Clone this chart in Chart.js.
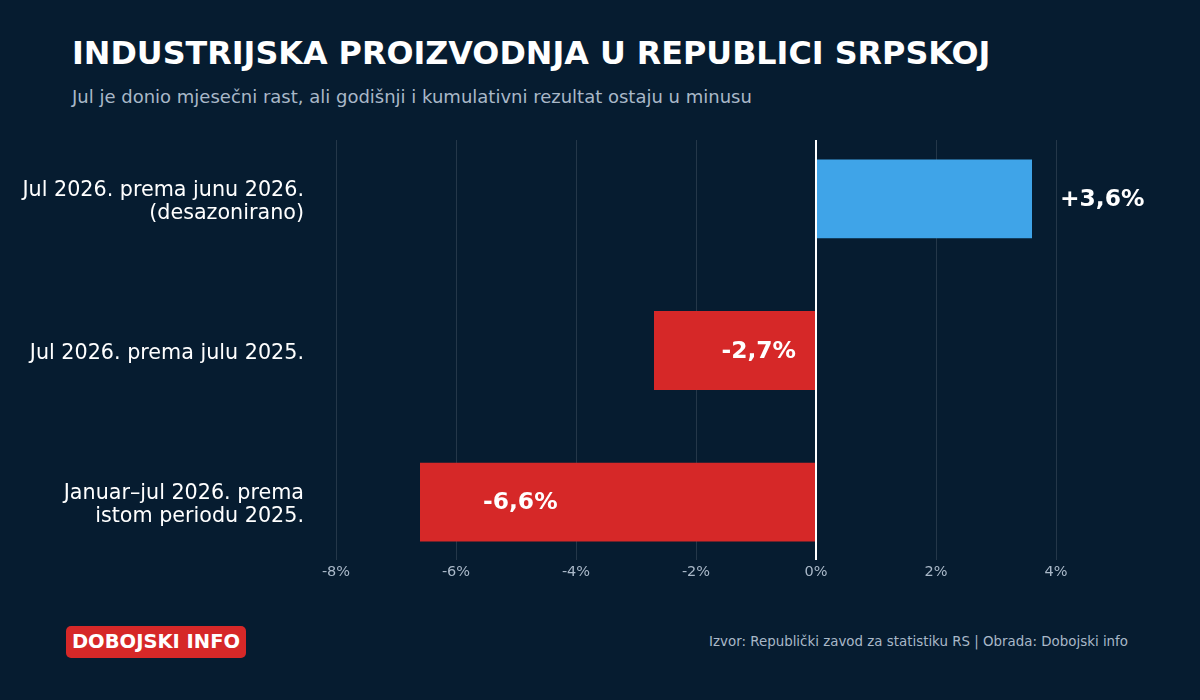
<!DOCTYPE html>
<html><head><meta charset="utf-8">
<script src="https://cdn.jsdelivr.net/npm/chart.js@4"></script>
<style>
html,body{margin:0;padding:0;background:#061c30;width:1200px;height:700px;overflow:hidden;font-family:"DejaVu Sans",sans-serif}
#t{position:absolute;left:72px;top:34px;color:#fff;font-size:31.8px;font-weight:bold;white-space:nowrap}
#s{position:absolute;left:72px;top:86px;color:#a9b8c8;font-size:18px;white-space:nowrap}
#b{position:absolute;left:66px;top:626px;width:180px;height:32px;background:#d62828;border-radius:5px;color:#fff;font-weight:bold;font-size:19.5px;line-height:32px;text-align:center}
#f{position:absolute;right:72px;top:634px;color:#a9b8c8;font-size:13.4px;white-space:nowrap}
canvas{position:absolute;left:0;top:0}
</style></head><body>
<div id="t">INDUSTRIJSKA PROIZVODNJA U REPUBLICI SRPSKOJ</div>
<div id="s">Jul je donio mjesečni rast, ali godišnji i kumulativni rezultat ostaju u minusu</div>
<div id="b">DOBOJSKI INFO</div>
<div id="f">Izvor: Republički zavod za statistiku RS | Obrada: Dobojski info</div>
<div style="position:absolute;left:0;top:0;width:1200px;height:700px"><canvas id="c"></canvas></div>
<script>
const categories=[["Jul 2026. prema junu 2026.","(desazonirano)"],"Jul 2026. prema julu 2025.",["Januar–jul 2026. prema","istom periodu 2025."]];
const values=[3.6,-2.7,-6.6];
const labels=["+3,6%","-2,7%","-6,6%"];
const tickValues=[-8,-6,-4,-2,0,2,4];
const F='"DejaVu Sans"';
const plug={id:'p',
beforeDatasetsDraw(ch){const c=ch.ctx,x=ch.scales.x;c.save();
 tickValues.forEach(v=>{const px=x.getPixelForValue(v);c.strokeStyle='rgba(255,255,255,0.12)';c.lineWidth=1;c.beginPath();c.moveTo(px+0.5,140);c.lineTo(px+0.5,560);c.stroke();
 c.fillStyle='#a9b8c8';c.font='14.5px '+F;c.textAlign='center';c.textBaseline='middle';c.fillText(v+'%',px,572);});
 c.restore();},
afterDatasetsDraw(ch){const c=ch.ctx,x=ch.scales.x,y=ch.scales.y;c.save();
 const z=x.getPixelForValue(0);c.strokeStyle='#fff';c.lineWidth=2;c.beginPath();c.moveTo(z,140);c.lineTo(z,560);c.stroke();
 c.font='bold 23.4px '+F;c.fillStyle='#fff';c.textBaseline='middle';
 values.forEach((v,i)=>{const py=y.getPixelForValue(i)+1,e=x.getPixelForValue(v);
  if(v>=0){c.textAlign='left';c.fillText(labels[i],e+28,py);}
  else if(z-e>300){c.textAlign='left';c.fillText(labels[i],e+63,py);}
  else{c.textAlign='right';c.fillText(labels[i],z-20,py);}});
 c.restore();}};
new Chart(document.getElementById('c'),{type:'bar',
data:{labels:categories,datasets:[{data:values,backgroundColor:values.map(v=>v>=0?'#3fa4e8':'#d62828'),barPercentage:0.52,categoryPercentage:1}]},
options:{indexAxis:'y',responsive:true,maintainAspectRatio:false,animation:false,
layout:{padding:{left:0,right:144,top:123,bottom:122}},
plugins:{legend:{display:false},tooltip:{enabled:false}},
scales:{x:{display:false,min:-8,max:4},
y:{afterFit(s){s.width=336;},grid:{display:false},border:{display:false},
ticks:{color:'#fff',font:{size:20.7,family:F,lineHeight:1.1},padding:24,crossAlign:'near',labelOffset:3}}}},
plugins:[plug]});
</script></body></html>
